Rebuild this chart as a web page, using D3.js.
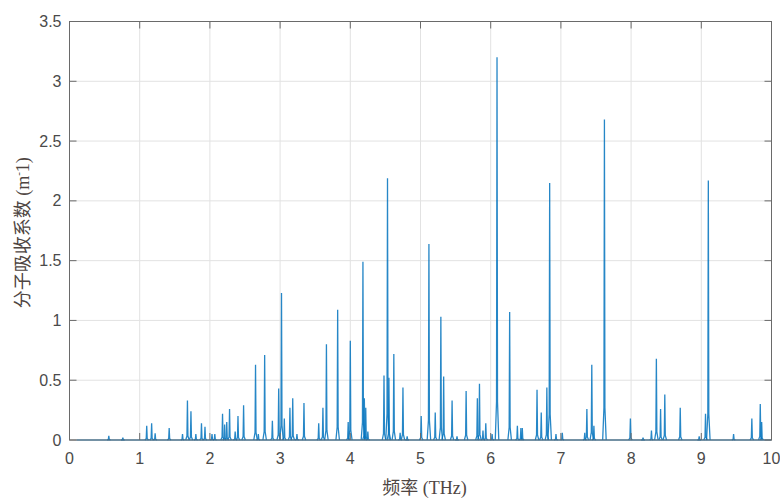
<html>

<head>
    <meta charset="utf-8">
    <title>分子吸收系数</title>
    <style>
        body { margin: 0; background: #fff; }
    </style>
</head>

<body>
    <script src="https://cdn.jsdelivr.net/npm/d3@7/dist/d3.min.js" charset="utf-8"></script>
    <script>
        // 吸收峰：频率 (THz) 与峰值 (m^-1)
        var peakFreq = [0.56, 0.76, 1.10, 1.17, 1.22, 1.42, 1.61, 1.68, 1.73, 1.80, 1.88, 1.93, 2.03, 2.07,
            2.18, 2.21, 2.24, 2.28, 2.36, 2.40, 2.48, 2.65, 2.69, 2.78, 2.89, 2.98, 3.02, 3.06, 3.14, 3.18,
            3.24, 3.34, 3.55, 3.61, 3.66, 3.82, 3.97, 4.00, 4.18, 4.20, 4.22, 4.25, 4.48, 4.53, 4.55, 4.62,
            4.71, 4.75, 4.81, 5.01, 5.12, 5.21, 5.29, 5.33, 5.45, 5.52, 5.65, 5.81, 5.84, 5.89, 5.93, 6.02,
            6.09, 6.27, 6.38, 6.43, 6.45, 6.66, 6.72, 6.80, 6.84, 6.93, 7.02, 7.34, 7.37, 7.44, 7.47, 7.62,
            7.99, 8.17, 8.29, 8.36, 8.42, 8.48, 8.70, 8.97, 9.06, 9.10, 9.46, 9.72, 9.84, 9.86];
        var peakAbs = [0.035, 0.02, 0.12, 0.14, 0.055, 0.10, 0.05, 0.33, 0.24, 0.05, 0.14, 0.11, 0.05, 0.05,
            0.22, 0.13, 0.15, 0.26, 0.07, 0.20, 0.29, 0.63, 0.05, 0.71, 0.16, 0.43, 1.23, 0.18, 0.27, 0.35,
            0.05, 0.31, 0.14, 0.27, 0.80, 1.09, 0.15, 0.83, 1.49, 0.35, 0.27, 0.07, 0.54, 2.19, 0.52, 0.72,
            0.06, 0.44, 0.03, 0.20, 1.64, 0.23, 1.03, 0.53, 0.33, 0.03, 0.41, 0.35, 0.47, 0.08, 0.14, 0.05,
            3.20, 1.07, 0.12, 0.10, 0.10, 0.42, 0.23, 0.44, 2.15, 0.05, 0.06, 0.06, 0.26, 0.63, 0.12, 2.68,
            0.18, 0.02, 0.08, 0.68, 0.26, 0.38, 0.27, 0.03, 0.22, 2.17, 0.05, 0.18, 0.30, 0.15];
        var freqRange = [0.1, 10];   // 计算频段
        var xTicks = [0, 1, 2, 3, 4, 5, 6, 7, 8, 9, 10];
        var yTicks = [0, 0.5, 1, 1.5, 2, 2.5, 3, 3.5];

        var width = 780, height = 500;
        var margin = { left: 69.5, right: 8.5, top: 21.5, bottom: 60 };

        var svg = d3.select("body")
            .append("svg")
            .attr("width", width)
            .attr("height", height);

        var x = d3.scaleLinear().domain([0, 10]).range([margin.left, width - margin.right]);
        var y = d3.scaleLinear().domain([0, 3.5]).range([height - margin.bottom, margin.top]);

        var x0 = x.range()[0], x1 = x.range()[1], y0 = y.range()[0], y1 = y.range()[1];

        // 网格
        svg.append("g").selectAll("line")
            .data(xTicks.slice(1, -1))
            .enter().append("line")
            .attr("x1", function (d) { return x(d); })
            .attr("x2", function (d) { return x(d); })
            .attr("y1", y1).attr("y2", y0)
            .attr("stroke", "#e2e2e2");
        svg.append("g").selectAll("line")
            .data(yTicks.slice(1, -1))
            .enter().append("line")
            .attr("x1", x0).attr("x2", x1)
            .attr("y1", function (d) { return y(d); })
            .attr("y2", function (d) { return y(d); })
            .attr("stroke", "#e2e2e2");

        // 曲线
        svg.append("clipPath").attr("id", "clip")
            .append("rect").attr("x", x0).attr("y", y1).attr("width", x1 - x0).attr("height", y0 - y1 + 1);

        var plot = svg.append("g").attr("clip-path", "url(#clip)");
        var line = d3.line()
            .x(function (d) { return x(d[0]); })
            .y(function (d) { return y(d[1]); });

        plot.append("path")
            .attr("d", line([[freqRange[0], 0], [freqRange[1], 0]]))
            .attr("fill", "none")
            .attr("stroke", "#0072BD")
            .attr("stroke-width", 1.2);

        var peaks = d3.zip(peakFreq, peakAbs);
        plot.selectAll("path.peak")
            .data(peaks)
            .enter().append("path")
            .attr("class", "peak")
            .attr("d", function (d) {
                var c = d[0], h = d[1];
                return line([[c - 0.025, 0], [c - 0.007, h * 0.1], [c, h], [c + 0.007, h * 0.1], [c + 0.025, 0]]);
            })
            .attr("fill", "none")
            .attr("stroke", "#0072BD")
            .attr("stroke-width", 1.3)
            .attr("stroke-opacity", 0.85);

        // 坐标轴框
        var axisColor = "#6a6a6a";
        svg.append("rect")
            .attr("x", x0).attr("y", y1)
            .attr("width", x1 - x0).attr("height", y0 - y1)
            .attr("fill", "none")
            .attr("stroke", axisColor);

        var tickLen = 7;
        var ticks = svg.append("g").attr("stroke", axisColor);
        xTicks.forEach(function (t) {
            ticks.append("line").attr("x1", x(t)).attr("x2", x(t)).attr("y1", y0).attr("y2", y0 - tickLen);
            ticks.append("line").attr("x1", x(t)).attr("x2", x(t)).attr("y1", y1).attr("y2", y1 + tickLen);
        });
        yTicks.forEach(function (t) {
            ticks.append("line").attr("x1", x0).attr("x2", x0 + tickLen).attr("y1", y(t)).attr("y2", y(t));
            ticks.append("line").attr("x1", x1).attr("x2", x1 - tickLen).attr("y1", y(t)).attr("y2", y(t));
        });

        var tickFont = "'Liberation Sans', Arial, sans-serif";
        svg.append("g").selectAll("text")
            .data(xTicks)
            .enter().append("text")
            .attr("x", function (d) { return x(d); })
            .attr("y", y0 + 24)
            .attr("text-anchor", "middle")
            .attr("font-family", tickFont)
            .attr("font-size", 16)
            .attr("fill", "#4a4a4a")
            .text(function (d) { return d; });

        svg.append("g").selectAll("text")
            .data(yTicks)
            .enter().append("text")
            .attr("x", x0 - 8)
            .attr("y", function (d) { return y(d); })
            .attr("dy", "0.35em")
            .attr("text-anchor", "end")
            .attr("font-family", tickFont)
            .attr("font-size", 16)
            .attr("fill", "#4a4a4a")
            .text(function (d) { return d; });

        // 轴标题
        var labelFont = "'Liberation Serif', 'Noto Sans CJK SC', serif";
        svg.append("text")
            .attr("x", (x0 + x1) / 2 + 4)
            .attr("y", 494)
            .attr("text-anchor", "middle")
            .attr("font-family", labelFont)
            .attr("font-size", 18)
            .attr("fill", "#4e4542")
            .text("频率 (THz)");

        var ylab = svg.append("text")
            .attr("transform", "translate(29," + ((y0 + y1) / 2 + 2) + ") rotate(-90)")
            .attr("text-anchor", "middle")
            .attr("font-family", labelFont)
            .attr("font-size", 18)
            .attr("fill", "#4e4542");
        ylab.append("tspan").text("分子吸收系数 (m");
        ylab.append("tspan").attr("font-size", 11).attr("dy", -7).text("-");
        ylab.append("tspan").attr("dy", 7).text("1)");
    </script>
</body>

</html>
